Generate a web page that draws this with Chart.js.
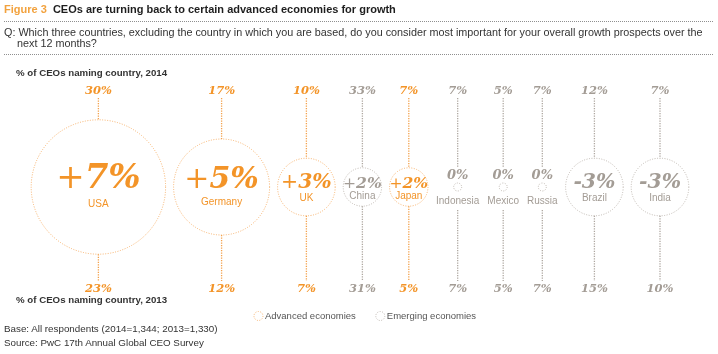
<!DOCTYPE html>
<html>
<head>
<meta charset="utf-8">
<script src="https://cdn.jsdelivr.net/npm/chart.js@4.4.1/dist/chart.umd.min.js"></script>
<style>
html,body{margin:0;padding:0;background:#fff;}
#wrap{position:relative;width:718px;height:354px;overflow:hidden;font-family:"Liberation Sans",Arial,sans-serif;}
#c{position:absolute;left:0;top:0;}
.t{position:absolute;white-space:nowrap;}
.dots{position:absolute;left:4px;width:709px;height:0;border-top:1px dotted #8f8f8f;}
</style>
</head>
<body>
<div id="wrap">
<canvas id="c" width="718" height="354"></canvas>
<div class="t" style="left:4px;top:3px;font-size:11px;line-height:12px;font-weight:bold;"><span style="color:#f2a23e">Figure 3</span>&nbsp; <span style="color:#1e1e1e">CEOs are turning back to certain advanced economies for growth</span></div>
<div class="dots" style="top:21px"></div>
<div class="t" style="left:4px;top:27px;font-size:10.8px;line-height:10.5px;color:#333;">Q: Which three countries, excluding the country in which you are based, do you consider most important for your overall growth prospects over the<br><span style="padding-left:13px">next 12 months?</span></div>
<div class="dots" style="top:54px"></div>
<div class="t" style="left:16px;top:68px;font-size:9.7px;line-height:10px;font-weight:bold;color:#333">% of CEOs naming country, 2014</div>
<div class="t" style="left:16px;top:295px;font-size:9.7px;line-height:10px;font-weight:bold;color:#333">% of CEOs naming country, 2013</div>
<div class="t" style="left:4px;top:322px;font-size:9.8px;line-height:14px;color:#333">Base: All respondents (2014=1,344; 2013=1,330)<br>Source: PwC 17th Annual Global CEO Survey</div>
</div>
<script>
// ---- data ----
const countries   = ['USA','Germany','UK','China','Japan','Indonesia','Mexico','Russia','Brazil','India'];
const share2014   = [30, 17, 10, 33, 7, 7, 5, 7, 12, 7];
const share2013   = [23, 12, 7, 31, 5, 7, 5, 7, 15, 10];
const changePts   = [7, 5, 3, 2, 2, 0, 0, 0, -3, -3];
const economyType = [0, 0, 0, 1, 0, 1, 1, 1, 1, 1];   // 0 = advanced, 1 = emerging
const groupNames  = ['Advanced economies', 'Emerging economies'];

// ---- styles ----
const ringColor = ['#f6b06a', '#bdb6af'];
const lineColor = ['#f3a14c', '#aea7a0'];
const textColor = ['#f39428', '#a39c95'];
const LABEL_FONT = '10px "Liberation Sans", Arial, sans-serif';
const SERIF = '"DejaVu Serif", serif';

// bubble radius from size of change, min dot for 0
const radii = changePts.map(c => Math.max(4, Math.abs(c) * 9.6));

// pack bubbles side by side
const mctx = document.createElement('canvas').getContext('2d');
mctx.font = LABEL_FONT;
const halfW = countries.map((n, i) => Math.max(radii[i], mctx.measureText(n).width / 2));
const GAP = 8;
const total = halfW.reduce((s, h) => s + 2 * h, 0) + GAP * (countries.length - 1);
let cursor = 360 - total / 2;
const xs = halfW.map(h => { const x = cursor + h; cursor += 2 * h + GAP; return x; });

const datasets = groupNames.map((name, g) => ({
  label: name,
  data: countries.map((c, i) => ({x: xs[i], y: 0, r: radii[i], idx: i})).filter(d => economyType[d.idx] === g),
  backgroundColor: 'rgba(0,0,0,0)',
  borderColor: ringColor[g],
  borderWidth: 1,
  hoverBorderWidth: 1,
  clip: false
}));

function ringPath(ctx, x, y, r, color) {
  ctx.save();
  ctx.setLineDash([1, 1.5]);
  ctx.strokeStyle = color; ctx.lineWidth = 1;
  ctx.beginPath(); ctx.arc(x, y, r, 0, Math.PI * 2); ctx.stroke();
  ctx.restore();
}

function vline(ctx, x, y1, y2, color) {
  ctx.save();
  ctx.setLineDash([1.2, 1.3]);
  ctx.strokeStyle = color; ctx.lineWidth = 1.3;
  ctx.beginPath(); ctx.moveTo(x, y1); ctx.lineTo(x, y2); ctx.stroke();
  ctx.restore();
}

const decor = {
  id: 'decor',
  beforeDatasetDraw(chart) { chart.ctx.save(); chart.ctx.setLineDash([1, 1.5]); },
  afterDatasetDraw(chart) { chart.ctx.restore(); },
  afterDatasetsDraw(chart) {
    const ctx = chart.ctx;
    const area = chart.chartArea;
    const topY = area.top - 9, botY = area.bottom + 15;
    chart.data.datasets.forEach((ds, di) => {
      const meta = chart.getDatasetMeta(di);
      meta.data.forEach((el, j) => {
        const i = ds.data[j].idx;
        const g = economyType[i];
        const x = el.x, y = el.y, r = el.options.radius;
        const c = changePts[i];
        ctx.save();
        ctx.textAlign = 'center'; ctx.textBaseline = 'middle';
        ctx.fillStyle = textColor[g];
        ctx.font = 'italic bold 11.5px ' + SERIF;
        ctx.fillText(share2014[i] + '%', x, topY);
        ctx.fillText(share2013[i] + '%', x, botY);
        ctx.restore();
        if (c === 0) {
          vline(ctx, x, area.top - 2, y - 20, lineColor[g]);
          vline(ctx, x, y + 23, area.bottom + 7, lineColor[g]);
          ctx.save();
          ctx.textAlign = 'center'; ctx.textBaseline = 'middle';
          ctx.fillStyle = textColor[g];
          ctx.font = 'italic bold 13px ' + SERIF;
          ctx.fillText('0%', x, y - 11);
          ctx.font = LABEL_FONT;
          ctx.fillText(countries[i], x, y + 14);
          ctx.restore();
        } else {
          vline(ctx, x, area.top - 2, y - r, lineColor[g]);
          vline(ctx, x, y + r, area.bottom + 7, lineColor[g]);
          const f = Math.min(34, 0.5 * r + 6);
          const sign = c > 0 ? '+' : '-';
          const num = Math.abs(c) + '%';
          const signFont = (c > 0 ? '' : 'italic bold ') + f + 'px ' + SERIF;
          const numFont = 'italic bold ' + f + 'px ' + SERIF;
          ctx.save();
          ctx.fillStyle = textColor[g];
          ctx.textBaseline = 'alphabetic'; ctx.textAlign = 'left';
          ctx.font = signFont; const ws = ctx.measureText(sign).width;
          ctx.font = numFont; const wn = ctx.measureText(num).width;
          const x0 = x - (ws + wn) / 2;
          const base = y + 1;
          ctx.font = signFont; ctx.fillText(sign, x0, base);
          ctx.font = numFont; ctx.fillText(num, x0 + ws, base);
          ctx.textAlign = 'center'; ctx.textBaseline = 'middle';
          ctx.font = LABEL_FONT;
          ctx.fillText(countries[i], x, base + 0.45 * f + 1);
          ctx.restore();
        }
      });
    });
    // legend
    ctx.save();
    ctx.font = '9.5px "Liberation Sans", Arial, sans-serif';
    ctx.textBaseline = 'middle'; ctx.textAlign = 'left';
    const ly = area.bottom + 42;
    const items = chart.data.datasets.map((d, g) => ({g, label: d.label, w: 11 + ctx.measureText(d.label).width}));
    const tw = items.reduce((s, it) => s + it.w, 0) + 20;
    let lx = chart.width / 2 + 6 - tw / 2;
    items.forEach(it => {
      ringPath(ctx, lx + 4.5, ly, 4.5, ringColor[it.g]);
      ctx.fillStyle = '#555';
      ctx.fillText(it.label, lx + 11, ly);
      lx += it.w + 20;
    });
    ctx.restore();
  }
};

new Chart(document.getElementById('c'), {
  type: 'bubble',
  data: { datasets },
  options: {
    responsive: false,
    devicePixelRatio: 1,
    animation: false,
    events: [],
    layout: { autoPadding: false, padding: { top: 100, bottom: 80, left: 0, right: 0 } },
    plugins: { legend: { display: false }, tooltip: { enabled: false } },
    scales: {
      x: { type: 'linear', display: false, min: 0, max: 718 },
      y: { type: 'linear', display: false, min: -1, max: 1 }
    }
  },
  plugins: [decor]
});
</script>
</body>
</html>
